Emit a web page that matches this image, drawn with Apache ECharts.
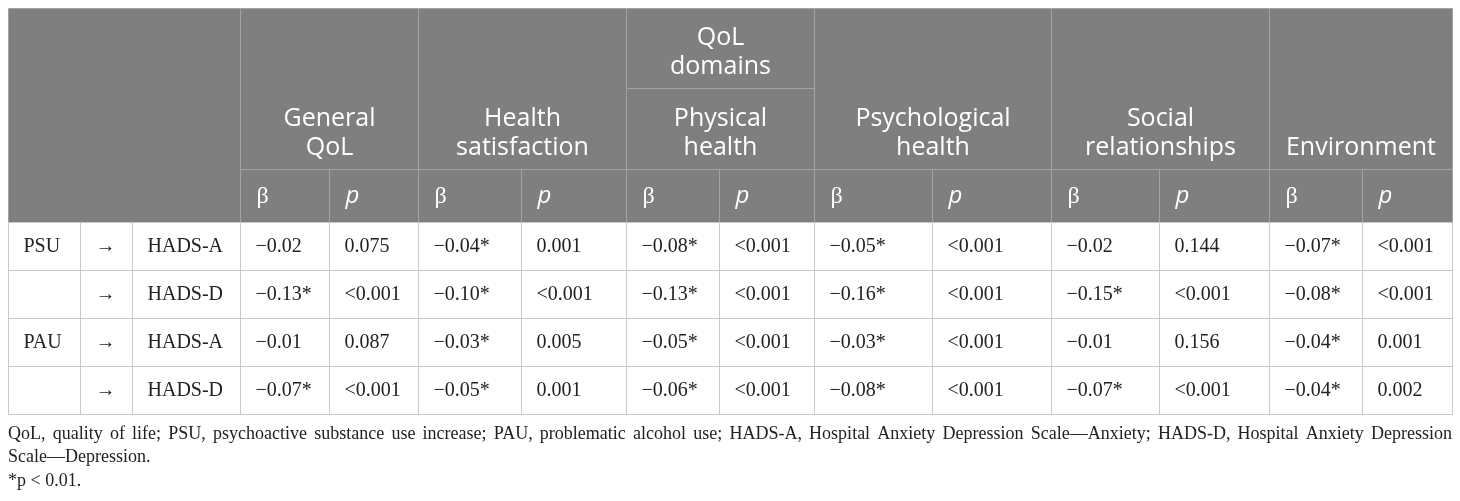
<!DOCTYPE html>
<html>
<head>
<meta charset="utf-8">
<title>QoL domains table</title>
<script src="https://cdn.jsdelivr.net/npm/echarts@6/dist/echarts.min.js"></script>
<style>
html,body{margin:0;padding:0;background:#fff;}
#main{width:1460px;height:501px;}
</style>
</head>
<body>
<div id="main"></div>
<script>
// table text
const domains = ['General\nQoL', 'Health\nsatisfaction', 'Physical\nhealth', 'Psychological\nhealth', 'Social\nrelationships', 'Environment'];
const domainGroup = 'QoL\ndomains';
const groupedDomain = 2; // the domain that sits under "QoL domains"
const statLabels = ['β', 'p'];
const predictors = ['PSU', '', 'PAU', ''];
const arrows = ['→', '→', '→', '→'];
const outcomes = ['HADS-A', 'HADS-D', 'HADS-A', 'HADS-D'];

const betaGeneral = ['−0.02', '−0.13*', '−0.01', '−0.07*'];
const pGeneral = ['0.075', '<0.001', '0.087', '<0.001'];
const betaHealth = ['−0.04*', '−0.10*', '−0.03*', '−0.05*'];
const pHealth = ['0.001', '<0.001', '0.005', '0.001'];
const betaPhysical = ['−0.08*', '−0.13*', '−0.05*', '−0.06*'];
const pPhysical = ['<0.001', '<0.001', '<0.001', '<0.001'];
const betaPsych = ['−0.05*', '−0.16*', '−0.03*', '−0.08*'];
const pPsych = ['<0.001', '<0.001', '<0.001', '<0.001'];
const betaSocial = ['−0.02', '−0.15*', '−0.01', '−0.07*'];
const pSocial = ['0.144', '<0.001', '0.156', '<0.001'];
const betaEnv = ['−0.07*', '−0.08*', '−0.04*', '−0.04*'];
const pEnv = ['<0.001', '<0.001', '0.001', '0.002'];

const notes = [
	'QoL, quality of life; PSU, psychoactive substance use increase; PAU, problematic alcohol use; HADS-A, Hospital Anxiety Depression Scale—Anxiety; HADS-D, Hospital Anxiety Depression',
	'Scale—Depression.',
	'*p < 0.01.'
];

// layout, in axis units (1 unit = 1 px)
const colEdges = [8, 80, 132, 240, 329, 418, 521, 626, 719, 814, 932, 1051, 1159, 1269, 1362, 1452];
const rowEdges = [8, 88, 169, 222, 270, 318, 366, 414];
const noteTop = 434;
const noteStep = 23.5;

const HEAD_BG = '#7f7f7f';
const HEAD_LINE = '#a2a2a2';
const BODY_LINE = '#c8c8c8';
const INK = '#222';
const headFont = '25px "Open Sans"';
const bodyFont = '20px "Liberation Serif"';
const noteFont = '18px "Liberation Serif"';

let betaCols = [betaGeneral, betaHealth, betaPhysical, betaPsych, betaSocial, betaEnv];
let pCols = [pGeneral, pHealth, pPhysical, pPsych, pSocial, pEnv];

// build the cell list
let cells = [];
cells.push({c0: 0, c1: 3, r0: 0, r1: 3, text: '', kind: 'head'});
for (let d = 0; d < domains.length; d++) {
	let c = 3 + 2 * d;
	if (d === groupedDomain) {
		cells.push({c0: c, c1: c + 2, r0: 0, r1: 1, text: domainGroup, kind: 'head'});
		cells.push({c0: c, c1: c + 2, r0: 1, r1: 2, text: domains[d], kind: 'head'});
	} else {
		cells.push({c0: c, c1: c + 2, r0: 0, r1: 2, text: domains[d], kind: 'head'});
	}
	cells.push({c0: c, c1: c + 1, r0: 2, r1: 3, text: statLabels[0], kind: 'beta'});
	cells.push({c0: c + 1, c1: c + 2, r0: 2, r1: 3, text: statLabels[1], kind: 'p'});
}
for (let r = 0; r < outcomes.length; r++) {
	let row = 3 + r;
	cells.push({c0: 0, c1: 1, r0: row, r1: row + 1, text: predictors[r], kind: 'body'});
	cells.push({c0: 1, c1: 2, r0: row, r1: row + 1, text: arrows[r], kind: 'body'});
	cells.push({c0: 2, c1: 3, r0: row, r1: row + 1, text: outcomes[r], kind: 'body'});
	for (let d = 0; d < domains.length; d++) {
		let c = 3 + 2 * d;
		cells.push({c0: c, c1: c + 1, r0: row, r1: row + 1, text: betaCols[d][r], kind: 'body'});
		cells.push({c0: c + 1, c1: c + 2, r0: row, r1: row + 1, text: pCols[d][r], kind: 'body'});
	}
}

let measureCtx = document.createElement('canvas').getContext('2d');

function renderCell(params, api) {
	let cell = cells[params.dataIndex];
	let a = api.coord([colEdges[cell.c0], rowEdges[cell.r0]]);
	let b = api.coord([colEdges[cell.c1], rowEdges[cell.r1]]);
	let x = Math.round(a[0]) + 0.5, y = Math.round(a[1]) + 0.5;
	let w = Math.round(b[0]) - Math.round(a[0]), h = Math.round(b[1]) - Math.round(a[1]);
	let isHead = cell.kind !== 'body';
	let children = [{
		type: 'rect',
		shape: {x: x, y: y, width: w, height: h},
		style: {fill: isHead ? HEAD_BG : '#fff', stroke: isHead ? HEAD_LINE : BODY_LINE, lineWidth: 1}
	}];
	if (cell.text) {
		let ts;
		if (cell.kind === 'head') {
			ts = {x: x + w / 2, y: y + h - 7, align: 'center', verticalAlign: 'bottom',
				lineHeight: 29, font: headFont, fill: '#fff'};
		} else if (cell.kind === 'beta') {
			ts = {x: x + 16, y: y + h / 2 + 1, align: 'left', verticalAlign: 'middle',
				font: '24px "Liberation Serif"', fill: '#fff'};
		} else if (cell.kind === 'p') {
			ts = {x: x + 16, y: y + h / 2, align: 'left', verticalAlign: 'middle',
				font: 'italic 24px "Open Sans"', fill: '#fff'};
		} else {
			ts = {x: x + 15, y: y + h / 2, align: 'left', verticalAlign: 'middle',
				font: bodyFont, fill: INK};
		}
		ts.text = cell.text;
		children.push({type: 'text', style: ts});
	}
	return {type: 'group', children: children};
}

function renderNote(params, api) {
	let i = params.dataIndex;
	let left = api.coord([colEdges[0], noteTop + i * noteStep]);
	let right = api.coord([colEdges[colEdges.length - 1], noteTop + i * noteStep]);
	let text = notes[i];
	// first line is justified across the table width
	if (i === 0) {
		measureCtx.font = noteFont;
		let words = text.split(' ');
		let widths = words.map(function (wd) { return measureCtx.measureText(wd).width; });
		let sum = widths.reduce(function (s, v) { return s + v; }, 0);
		let gap = (right[0] - left[0] - sum) / (words.length - 1);
		let cx = left[0];
		let kids = [];
		for (let k = 0; k < words.length; k++) {
			kids.push({type: 'text', style: {text: words[k], x: cx, y: left[1], align: 'left',
				verticalAlign: 'middle', font: noteFont, fill: INK}});
			cx += widths[k] + gap;
		}
		return {type: 'group', children: kids};
	}
	return {type: 'text', style: {text: text, x: left[0], y: left[1], align: 'left',
		verticalAlign: 'middle', font: noteFont, fill: INK}};
}

let myChart = echarts.init(document.getElementById('main'));
myChart.setOption({
	animation: false,
	grid: {left: 0, right: 0, top: 0, bottom: 0},
	xAxis: {type: 'value', min: 0, max: 1460, show: false},
	yAxis: {type: 'value', min: 0, max: 501, inverse: true, show: false},
	series: [
		{
			type: 'custom',
			clip: false,
			renderItem: renderCell,
			data: cells.map(function (c) { return [colEdges[c.c0], rowEdges[c.r0]]; })
		},
		{
			type: 'custom',
			clip: false,
			renderItem: renderNote,
			data: notes.map(function (n, i) { return [colEdges[0], noteTop + i * noteStep]; })
		}
	]
});
</script>
</body>
</html>
